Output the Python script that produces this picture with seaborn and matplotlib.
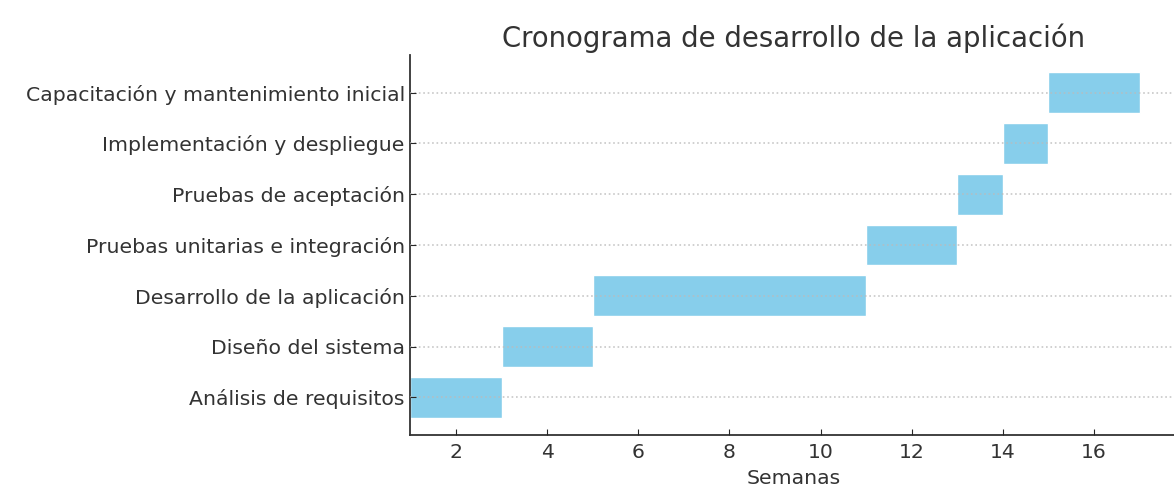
import matplotlib
matplotlib.use("Agg")
import matplotlib.pyplot as plt
import seaborn as sns
import pandas as pd

tareas = [
    "Análisis de requisitos",
    "Diseño del sistema",
    "Desarrollo de la aplicación",
    "Pruebas unitarias e integración",
    "Pruebas de aceptación",
    "Implementación y despliegue",
    "Capacitación y mantenimiento inicial",
]
inicio = [1, 3, 5, 11, 13, 14, 15]
duracion = [2, 2, 6, 2, 1, 1, 2]

df = pd.DataFrame({"tarea": tareas, "inicio": inicio, "duracion": duracion})

sns.set_style("ticks")
plt.rcParams["font.family"] = ["DejaVu Sans"]

fig = plt.figure(figsize=(11.74, 5.0), dpi=100)
ax = fig.add_axes([0.3496, 0.13, 0.6521, 0.76])

color = sns.color_palette(["#87CEEB"])[0]
ax.barh(range(len(df)), df["duracion"], left=df["inicio"], color=color, height=0.8)

ax.set_yticks(range(len(df)))
ax.set_yticklabels(df["tarea"], fontsize=14.7, color="#333333")
ax.set_xlim(1, 17.8)
ax.set_xticks([2, 4, 6, 8, 10, 12, 14, 16])
ax.tick_params(axis="x", labelsize=14.7, labelcolor="#333333", direction="in", length=4, pad=6)
ax.tick_params(axis="y", direction="in", length=4, pad=4)

ax.set_xlabel("Semanas", fontsize=14.7, color="#333333", labelpad=5)
ax.set_title("Cronograma de desarrollo de la aplicación", fontsize=19.8, color="#333333", pad=6)

ax.grid(axis="y", linestyle=":", color="#bbbbbb", linewidth=1.2, alpha=0.8)
ax.set_axisbelow(False)
sns.despine(ax=ax, top=True, right=True)
for s in ("left", "bottom"):
    ax.spines[s].set_color("#333333")
    ax.spines[s].set_linewidth(1.3)

fig.savefig("out.png", dpi=100)
